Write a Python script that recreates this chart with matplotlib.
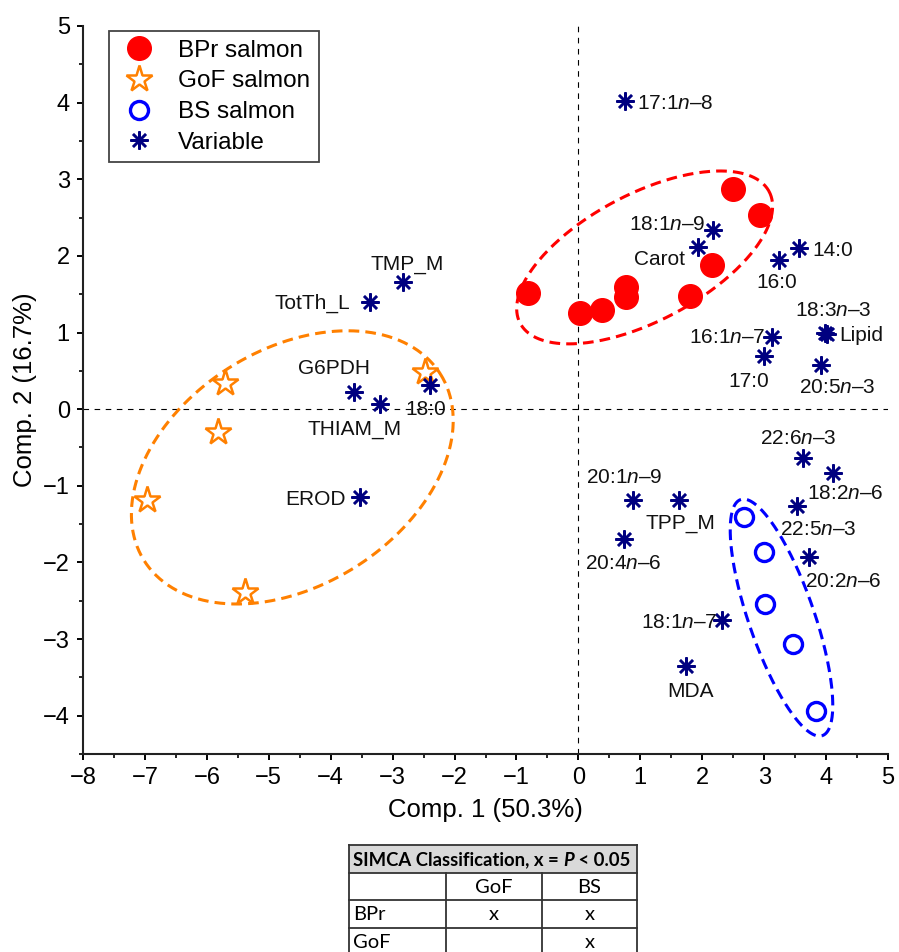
import numpy as np
import matplotlib
matplotlib.use("Agg")
import matplotlib.pyplot as plt
from matplotlib.lines import Line2D
from matplotlib.patches import Rectangle
from matplotlib.ticker import MultipleLocator

plt.rcParams["font.family"] = ["Liberation Sans", "DejaVu Sans"]
plt.rcParams["mathtext.fontset"] = "custom"
plt.rcParams["mathtext.rm"] = "Liberation Sans"
plt.rcParams["mathtext.it"] = "Liberation Sans:italic"

# ---- scores ----
bpr_x = [-0.82, 0.03, 0.38, 0.77, 0.77, 1.81, 2.16, 2.49, 2.93]
bpr_y = [1.51, 1.25, 1.30, 1.59, 1.46, 1.48, 1.88, 2.87, 2.53]
gof_x = [-5.70, -2.47, -5.82, -6.97, -5.39]
gof_y = [0.34, 0.49, -0.30, -1.19, -2.38]
bs_x = [2.68, 2.99, 3.02, 3.46, 3.84]
bs_y = [-1.41, -1.86, -2.54, -3.07, -3.94]

# ---- loadings ----
var_names = ["17:1$n$–8", "18:1$n$–9", "Carot", "14:0", "16:0", "18:3$n$–3",
             "Lipid", "16:1$n$–7", "17:0", "20:5$n$–3", "TMP_M", "TotTh_L",
             "G6PDH", "THIAM_M", "18:0", "EROD", "22:6$n$–3", "18:2$n$–6",
             "20:1$n$–9", "TPP_M", "22:5$n$–3", "20:4$n$–6", "20:2$n$–6",
             "18:1$n$–7", "MDA"]
var_x = [0.75, 2.18, 1.93, 3.56, 3.24, 3.98, 4.02, 3.13, 3.00, 3.91, -2.84,
         -3.36, -3.63, -3.20, -2.39, -3.52, 3.62, 4.11, 0.88, 1.62, 3.53,
         0.73, 3.72, 2.32, 1.73]
var_y = [4.02, 2.34, 2.11, 2.10, 1.95, 1.00, 0.98, 0.94, 0.69, 0.57, 1.66,
         1.40, 0.23, 0.07, 0.31, -1.14, -0.64, -0.83, -1.18, -1.18, -1.27,
         -1.70, -1.93, -2.75, -3.35]

# label placement: (ha, dx px, dy px downward) relative to the marker
label_pos = [("left", 12, 8), ("right", -8, 0), ("right", -13, 18),
             ("left", 14, 8), ("center", -2, 28), ("center", 8, -17),
             ("left", 12, 7), ("right", -7, 6), ("center", -15, 31),
             ("center", 17, 28), ("center", 5, -12), ("right", -20, 7),
             ("center", -20, -18), ("center", -26, 31), ("center", -5, 30),
             ("right", -15, 8), ("center", -4, -14), ("center", 12, 26),
             ("center", -9, -17), ("center", 2, 29), ("center", 21, 29),
             ("center", 0, 30), ("center", 35, 30), ("right", -5, 8),
             ("center", 5, 31)]

# ---- group ellipses: centre, semi-axis vectors (data units) ----
bpr_ell = [(1.07, 1.98), (2.01, 0.86), (0.48, -0.73)]
gof_ell = [(-4.62, -0.76), (2.39, 1.22), (1.02, -1.30)]
bs_ell = [(3.28, -2.72), (0.66, -1.54), (0.50, 0.14)]

# ---- SIMCA table ----
table_cols = ["", "GoF", "BS"]
table_rows = [["BPr", "x", "x"], ["GoF", "", "x"]]

RED = "#ff0000"
ORANGE = "#ff8000"
BLUE = "#0000ff"
NAVY = "#000080"

fig = plt.figure(figsize=(8.99, 9.52), dpi=100)
ax = fig.add_axes([83 / 899, 198 / 952, 805 / 899, 728 / 952])

ax.axhline(0, color="black", lw=0.8, ls=(0, (5, 5)), zorder=1)
ax.axvline(0, color="black", lw=0.8, ls=(0, (5, 5)), zorder=1)

t = np.linspace(0, 2 * np.pi, 300)
for ell, col in [(bpr_ell, RED), (gof_ell, ORANGE), (bs_ell, BLUE)]:
    (cx, cy), (ux, uy), (vx, vy) = ell
    ax.plot(cx + ux * np.cos(t) + vx * np.sin(t),
            cy + uy * np.cos(t) + vy * np.sin(t),
            color=col, lw=2.2, ls=(0, (3.5, 2)), zorder=2)

ax.plot(bpr_x, bpr_y, ls="none", marker="o", ms=17, mfc=RED, mec=RED, zorder=3)
ax.plot(gof_x, gof_y, ls="none", marker="*", ms=20, mfc="white", mec=ORANGE,
        mew=1.8, zorder=3)
ax.plot(bs_x, bs_y, ls="none", marker="o", ms=13, mfc="none", mec=BLUE,
        mew=2.4, zorder=3)
ax.plot(var_x, var_y, ls="none", marker=(8, 2, 0), ms=13, mec=NAVY,
        mew=1.8, zorder=4)

for name, x, y, (ha, dx, dy) in zip(var_names, var_x, var_y, label_pos):
    ax.annotate(name, (x, y), xytext=(dx, -dy), textcoords="offset pixels",
                ha=ha, va="baseline", fontsize=15, color="#111111", zorder=5)

ax.set_xlim(-8, 5)
ax.set_ylim(-4.5, 5)
ax.set_xticks(range(-8, 6))
ax.set_yticks(range(-4, 6))
ax.xaxis.set_minor_locator(MultipleLocator(0.5))
ax.yaxis.set_minor_locator(MultipleLocator(0.5))
ax.tick_params(which="major", length=4.5, width=1.4, labelsize=17, pad=5)
ax.tick_params(which="minor", length=3, width=1.2)
for s in ["top", "right"]:
    ax.spines[s].set_visible(False)
for s in ["left", "bottom"]:
    ax.spines[s].set_linewidth(1.5)
    ax.spines[s].set_color("#222222")

ax.set_xlabel("Comp. 1 (50.3%)", fontsize=18.5, labelpad=6)
ax.set_ylabel("Comp. 2 (16.7%)", fontsize=18.5, labelpad=4)

handles = [
    Line2D([], [], ls="none", marker="o", ms=17, mfc=RED, mec=RED),
    Line2D([], [], ls="none", marker="*", ms=20, mfc="white", mec=ORANGE, mew=1.8),
    Line2D([], [], ls="none", marker="o", ms=13, mfc="none", mec=BLUE, mew=2.4),
    Line2D([], [], ls="none", marker=(8, 2, 0), ms=13, mec=NAVY, mew=1.8),
]
leg = ax.legend(handles, ["BPr salmon", "GoF salmon", "BS salmon", "Variable"],
                loc="upper left", bbox_to_anchor=(109 / 899, 1 - 31 / 952),
                bbox_transform=fig.transFigure, borderaxespad=0,
                fontsize=17.5, frameon=True, fancybox=False, framealpha=1,
                edgecolor="#444444", handlelength=1.8, handletextpad=0.7,
                labelspacing=0.36, borderpad=0.35)
leg.get_frame().set_linewidth(1.3)

# ---- table drawn in figure pixel space ----
tx = fig.add_axes([0, 0, 1, 1])
tx.set_xlim(0, 899)
tx.set_ylim(952, 0)
tx.axis("off")

col_edges = [349, 446, 542, 637]
row_edges = [845, 873, 900, 928, 956]
tab_font = ["Lato", "DejaVu Sans"]
lc = "#333333"

tx.add_patch(Rectangle((col_edges[0], row_edges[0]), col_edges[-1] - col_edges[0],
                       row_edges[1] - row_edges[0], facecolor="#d9d9d9",
                       edgecolor="none"))
for yv in row_edges:
    tx.plot([col_edges[0], col_edges[-1]], [yv, yv], color=lc, lw=1.3)
tx.plot([col_edges[0]] * 2, [row_edges[0], row_edges[-1]], color=lc, lw=1.3)
tx.plot([col_edges[-1]] * 2, [row_edges[0], row_edges[-1]], color=lc, lw=1.3)
for xv in col_edges[1:-1]:
    tx.plot([xv, xv], [row_edges[1], row_edges[-1]], color=lc, lw=1.3)

hy = (row_edges[0] + row_edges[1]) / 2 + 1
h1 = tx.text(353, hy, "SIMCA Classification, x = ", fontsize=13.3, fontweight="bold",
             family=tab_font, ha="left", va="center")
h2 = tx.annotate("P", xy=(1, 0), xycoords=h1, fontsize=13.3, fontweight="bold",
                 fontstyle="italic", family=tab_font, ha="left", va="bottom")
tx.annotate(" < 0.05", xy=(1, 0), xycoords=h2, fontsize=13.3, fontweight="bold",
            family=tab_font, ha="left", va="bottom")

rows = [table_cols] + table_rows
for i, row in enumerate(rows):
    yc = (row_edges[i + 1] + row_edges[i + 2]) / 2 + 1
    for j, cell in enumerate(row):
        if j == 0:
            tx.text(col_edges[0] + 4, yc, cell, fontsize=14.5, family=tab_font,
                    ha="left", va="center")
        else:
            tx.text((col_edges[j] + col_edges[j + 1]) / 2, yc, cell, fontsize=14.5,
                    family=tab_font, ha="center", va="center")

fig.savefig("out.png", dpi=100)
